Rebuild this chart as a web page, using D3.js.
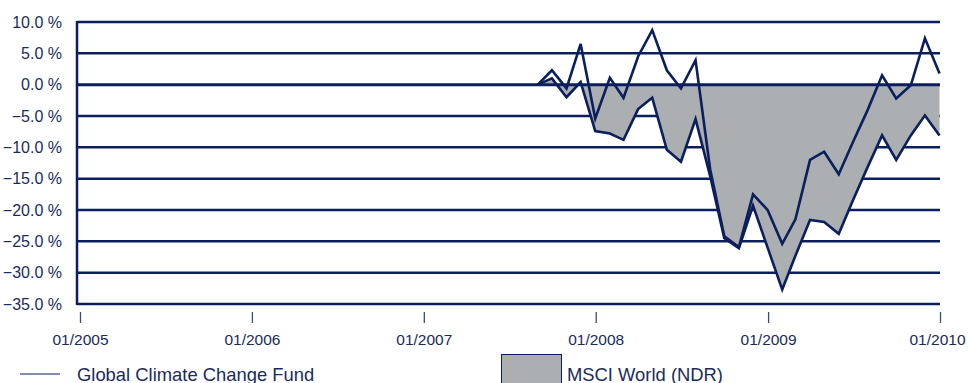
<!DOCTYPE html>
<html>
<head>
<meta charset="utf-8">
<script src="https://cdn.jsdelivr.net/npm/d3@7"></script>
<style>
  html, body { margin: 0; padding: 0; background: #ffffff; }
  svg { display: block; }
  text { font-family: "Liberation Sans", Arial, sans-serif; fill: #1a2b5c; }
</style>
</head>
<body>
<svg id="chart" width="968" height="383"></svg>
<script>
// ---- data (month-end observations) ----
const months = [
  "2007-08","2007-09","2007-10","2007-11","2007-12",
  "2008-01","2008-02","2008-03","2008-04","2008-05","2008-06",
  "2008-07","2008-08","2008-09","2008-10","2008-11","2008-12",
  "2009-01","2009-02","2009-03","2009-04","2009-05","2009-06",
  "2009-07","2009-08","2009-09","2009-10","2009-11","2009-12"
];
const fundValues = [
  0, 2.3, -0.6, 6.5, -5.4,
  1.1, -2.1, 4.5, 8.7, 2.3, -0.6,
  3.9, -13.5, -24.2, -25.9, -17.5, -20.0,
  -25.4, -21.5, -12.0, -10.7, -14.3, -9.2,
  -4.1, 1.5, -2.2, -0.1, 7.4, 1.8
];
const msciValues = [
  0, 1.0, -2.0, 0.4, -7.4,
  -7.8, -8.8, -3.9, -2.1, -10.4, -12.3,
  -5.5, -14.6, -24.5, -26.1, -19.3, -26.0,
  -32.7, -27.3, -21.6, -21.9, -23.8, -18.5,
  -13.2, -8.1, -12.0, -8.1, -4.9, -8.1
];
const yTicks = [10, 5, 0, -5, -10, -15, -20, -25, -30, -35];
const xTickLabels = ["01/2005","01/2006","01/2007","01/2008","01/2009","01/2010"];
const seriesNames = ["Global Climate Change Fund", "MSCI World (NDR)"];

// ---- setup ----
const navy = "#0b1f5c";
const gray = "#abafb2";
const svg = d3.select("#chart");

const plotLeft = 77, plotRight = 940, plotTop = 22, plotBottom = 304;

const parseMonth = d3.timeParse("%Y-%m");
const monthEnd = s => d3.timeDay.offset(d3.timeMonth.offset(parseMonth(s), 1), -1);
const parseTick = d3.timeParse("%m/%Y");

const data = months.map((m, i) => ({ date: monthEnd(m), fund: fundValues[i], msci: msciValues[i] }));

const x = d3.scaleTime()
  .domain([parseTick("01/2005"), parseTick("01/2010")])
  .range([80, 940]);
const y = d3.scaleLinear().domain([-35, 10]).range([plotBottom, plotTop]);

// ---- gridlines ----
const grid = svg.append("g");
grid.selectAll("line")
  .data(yTicks.filter(v => v !== 0))
  .join("line")
  .attr("x1", plotLeft).attr("x2", plotRight)
  .attr("y1", d => y(d)).attr("y2", d => y(d))
  .attr("stroke", navy).attr("stroke-width", 2.5);

// ---- y labels ----
const fmt = d3.format(".1f");
svg.append("g").selectAll("text")
  .data(yTicks)
  .join("text")
  .attr("x", 62)
  .attr("y", d => y(d))
  .attr("dy", "0.36em")
  .attr("text-anchor", "end")
  .attr("font-size", 16)
  .text(d => fmt(d) + " %");

// ---- x axis ticks ----
const xAxis = d3.axisBottom(x)
  .tickValues(xTickLabels.map(parseTick))
  .tickFormat(d3.timeFormat("%m/%Y"))
  .tickSize(11)
  .tickPadding(11);
const xg = svg.append("g").attr("transform", `translate(0,${plotBottom + 8})`).call(xAxis);
xg.select(".domain").remove();
xg.selectAll(".tick line").attr("stroke", "#3a4a7a").attr("stroke-width", 1.3);
xg.selectAll(".tick text")
  .attr("font-size", 15.5)
  .attr("font-family", '"Liberation Sans", Arial, sans-serif')
  .attr("fill", "#1a2b5c");
xg.selectAll(".tick text").filter((d, i, n) => i === n.length - 1).attr("dx", -3);

// ---- MSCI area ----
const area = d3.area()
  .x(d => x(d.date))
  .y0(y(0))
  .y1(d => y(d.msci));
svg.append("path").datum(data)
  .attr("d", area)
  .attr("fill", gray);

// ---- zero line on top of area ----
svg.append("line")
  .attr("x1", plotLeft).attr("x2", plotRight)
  .attr("y1", y(0)).attr("y2", y(0))
  .attr("stroke", navy).attr("stroke-width", 3);

// ---- left axis line ----
svg.append("line")
  .attr("x1", plotLeft).attr("x2", plotLeft)
  .attr("y1", plotTop - 1).attr("y2", plotBottom + 1)
  .attr("stroke", navy).attr("stroke-width", 2.5);

// ---- lines ----
const lineMsci = d3.line().x(d => x(d.date)).y(d => y(d.msci));
const lineFund = d3.line().x(d => x(d.date)).y(d => y(d.fund));
svg.append("path").datum(data)
  .attr("d", lineMsci)
  .attr("fill", "none").attr("stroke", navy).attr("stroke-width", 2.6)
  .attr("stroke-linejoin", "miter");
svg.append("path").datum(data)
  .attr("d", lineFund)
  .attr("fill", "none").attr("stroke", navy).attr("stroke-width", 2.6)
  .attr("stroke-linejoin", "miter");

// ---- legend ----
const lg = svg.append("g");
lg.append("line")
  .attr("x1", 20).attr("x2", 60).attr("y1", 374).attr("y2", 374)
  .attr("stroke", navy).attr("stroke-width", 1.2);
lg.append("text")
  .attr("x", 77).attr("y", 381)
  .attr("font-size", 18.4)
  .text(seriesNames[0]);
lg.append("rect")
  .attr("x", 501.5).attr("y", 354.5).attr("width", 60).attr("height", 40)
  .attr("fill", gray).attr("stroke", navy).attr("stroke-width", 1);
lg.append("text")
  .attr("x", 567).attr("y", 381)
  .attr("font-size", 18.4)
  .text(seriesNames[1]);
</script>
</body>
</html>
